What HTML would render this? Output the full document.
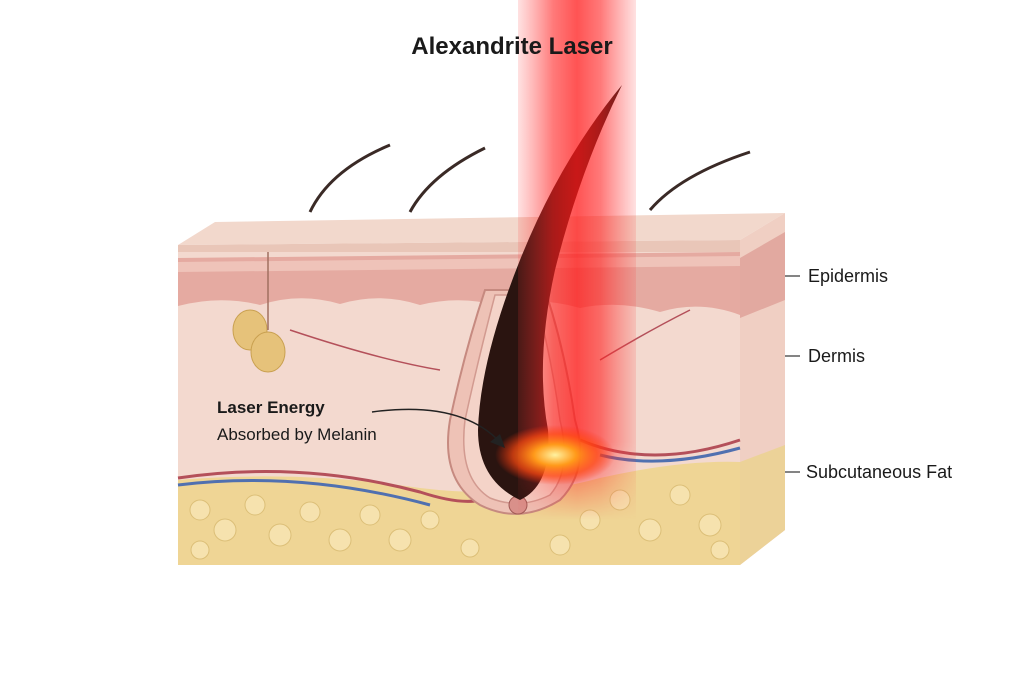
<!DOCTYPE html>
<html><head><meta charset="utf-8"><style>
html,body{margin:0;padding:0;background:#fff;}
svg{display:block;}
text{font-family:"Liberation Sans",sans-serif;fill:#1a1a1a;}
</style></head><body>
<svg width="1024" height="683" viewBox="0 0 1024 683" xmlns="http://www.w3.org/2000/svg">
<defs>
<linearGradient id="beam" x1="0" x2="1" y1="0" y2="0">
<stop offset="0" stop-color="#ff3b3b" stop-opacity="0.15"/>
<stop offset="0.3" stop-color="#ff2020" stop-opacity="0.6"/>
<stop offset="0.5" stop-color="#ff1a1a" stop-opacity="0.75"/>
<stop offset="0.7" stop-color="#ff2020" stop-opacity="0.6"/>
<stop offset="1" stop-color="#ff3b3b" stop-opacity="0.15"/>
</linearGradient>
<linearGradient id="beamfade" x1="0" x2="0" y1="0" y2="1">
<stop offset="0" stop-color="#fff" stop-opacity="1"/>
<stop offset="0.85" stop-color="#fff" stop-opacity="1"/>
<stop offset="1" stop-color="#fff" stop-opacity="0"/>
</linearGradient>
<mask id="bm"><rect x="0" y="0" width="1024" height="520" fill="url(#beamfade)"/></mask>
<radialGradient id="burst" cx="0.5" cy="0.5" r="0.5">
<stop offset="0" stop-color="#fff2a0"/>
<stop offset="0.35" stop-color="#ff9a1a"/>
<stop offset="0.7" stop-color="#ff4a10" stop-opacity="0.7"/>
<stop offset="1" stop-color="#ff3010" stop-opacity="0"/>
</radialGradient>
</defs>
<!-- top hairs -->
<path d="M310 212 Q330 170 390 145" stroke="#3a2a26" stroke-width="3" fill="none"/>
<path d="M410 212 Q430 175 485 148" stroke="#3a2a26" stroke-width="3" fill="none"/>
<path d="M650 210 Q680 175 750 152" stroke="#3a2a26" stroke-width="3" fill="none"/>
<!-- top face -->
<polygon points="178,245 215,222 785,213 740,240" fill="#f2d8cc"/>
<polygon points="178,245 740,240 740,252 178,258" fill="#e9c6b8"/>
<!-- right face -->
<polygon points="740,240 785,213 785,530 740,565" fill="#f0cfc3"/>
<polygon points="740,258 785,232 785,300 740,318" fill="#e2a9a0"/>
<polygon points="740,462 785,445 785,530 740,565" fill="#ecd298"/>
<!-- front face -->
<rect x="178" y="252" width="562" height="313" fill="#f3d9cf"/>
<path d="M178 258 L740 252 L740 315 Q700 300 660 312 Q620 300 580 308 Q540 296 500 306 Q460 295 420 305 Q380 292 340 304 Q300 292 260 305 Q220 295 178 306 Z" fill="#e5aaa1"/>
<path d="M178 262 L740 256 L740 266 L178 272Z" fill="#efc3b9"/>
<!-- fat -->
<path d="M178 480 Q300 470 420 488 Q520 500 600 478 Q680 460 740 462 L740 565 L178 565 Z" fill="#efd595"/>
<g fill="#f6e2ae" stroke="#dcbf78" stroke-width="1">
<circle cx="200" cy="510" r="10"/><circle cx="225" cy="530" r="11"/><circle cx="255" cy="505" r="10"/><circle cx="280" cy="535" r="11"/><circle cx="310" cy="512" r="10"/><circle cx="340" cy="540" r="11"/><circle cx="370" cy="515" r="10"/><circle cx="400" cy="540" r="11"/><circle cx="430" cy="520" r="9"/><circle cx="590" cy="520" r="10"/><circle cx="620" cy="500" r="10"/><circle cx="650" cy="530" r="11"/><circle cx="680" cy="495" r="10"/><circle cx="710" cy="525" r="11"/><circle cx="200" cy="550" r="9"/><circle cx="560" cy="545" r="10"/><circle cx="470" cy="548" r="9"/><circle cx="720" cy="550" r="9"/>
</g>
<!-- vessels -->
<path d="M178 478 Q300 460 420 492 Q460 505 480 500" stroke="#b4505a" stroke-width="3" fill="none"/>
<path d="M178 485 Q300 470 430 505" stroke="#5070b0" stroke-width="3" fill="none"/>
<path d="M580 440 Q650 470 740 440" stroke="#b4505a" stroke-width="3" fill="none"/>
<path d="M600 455 Q660 470 740 448" stroke="#5070b0" stroke-width="3" fill="none"/>
<path d="M290 330 Q380 360 440 370" stroke="#b4505a" stroke-width="1.5" fill="none"/>
<path d="M600 360 Q650 330 690 310" stroke="#b4505a" stroke-width="1.5" fill="none"/>
<!-- sebaceous gland -->
<ellipse cx="250" cy="330" rx="17" ry="20" fill="#e6c27a" stroke="#c9a050"/>
<ellipse cx="268" cy="352" rx="17" ry="20" fill="#e6c27a" stroke="#c9a050"/>
<line x1="268" y1="252" x2="268" y2="330" stroke="#a07060" stroke-width="1.5"/>
<!-- follicle -->
<path d="M450 420 Q440 480 480 505 Q520 525 560 500 Q590 470 575 420 Q565 350 545 290 L485 290 Q465 350 450 420Z" fill="#eec2b6" stroke="#c68a80" stroke-width="2"/>
<path d="M465 420 Q458 478 490 498 Q520 510 550 495 Q572 470 560 420 Q552 360 535 295 L495 295 Q478 360 465 420Z" fill="#f4d3c8" stroke="#d29a90" stroke-width="1.5"/>
<circle cx="518" cy="505" r="9" fill="#d9908a" stroke="#a05a55"/>
<!-- hair shaft -->
<path d="M520 500 Q478 480 478 430 Q480 360 520 260 Q560 160 622 85 Q580 170 555 270 Q535 360 548 430 Q552 485 520 500Z" fill="#2a1410"/>
<!-- beam -->
<rect x="518" y="0" width="118" height="520" fill="url(#beam)" mask="url(#bm)"/>
<!-- burst -->
<ellipse cx="555" cy="455" rx="60" ry="30" fill="url(#burst)"/>
<!-- title -->
<text x="512" y="54" text-anchor="middle" font-size="24" font-weight="bold">Alexandrite Laser</text>
<!-- labels -->
<text x="217" y="413" font-size="17" font-weight="bold">Laser Energy</text>
<text x="217" y="440" font-size="17">Absorbed by Melanin</text>
<path d="M372 412 Q460 400 500 442" stroke="#222" stroke-width="1.5" fill="none"/>
<polygon points="505,448 490,442 500,434" fill="#222"/>
<line x1="785" y1="276" x2="800" y2="276" stroke="#333" stroke-width="1.2"/>
<text x="808" y="282" font-size="18">Epidermis</text>
<line x1="785" y1="356" x2="800" y2="356" stroke="#333" stroke-width="1.2"/>
<text x="808" y="362" font-size="18">Dermis</text>
<line x1="785" y1="472" x2="800" y2="472" stroke="#333" stroke-width="1.2"/>
<text x="806" y="478" font-size="18">Subcutaneous Fat</text>
</svg>
</body></html>
